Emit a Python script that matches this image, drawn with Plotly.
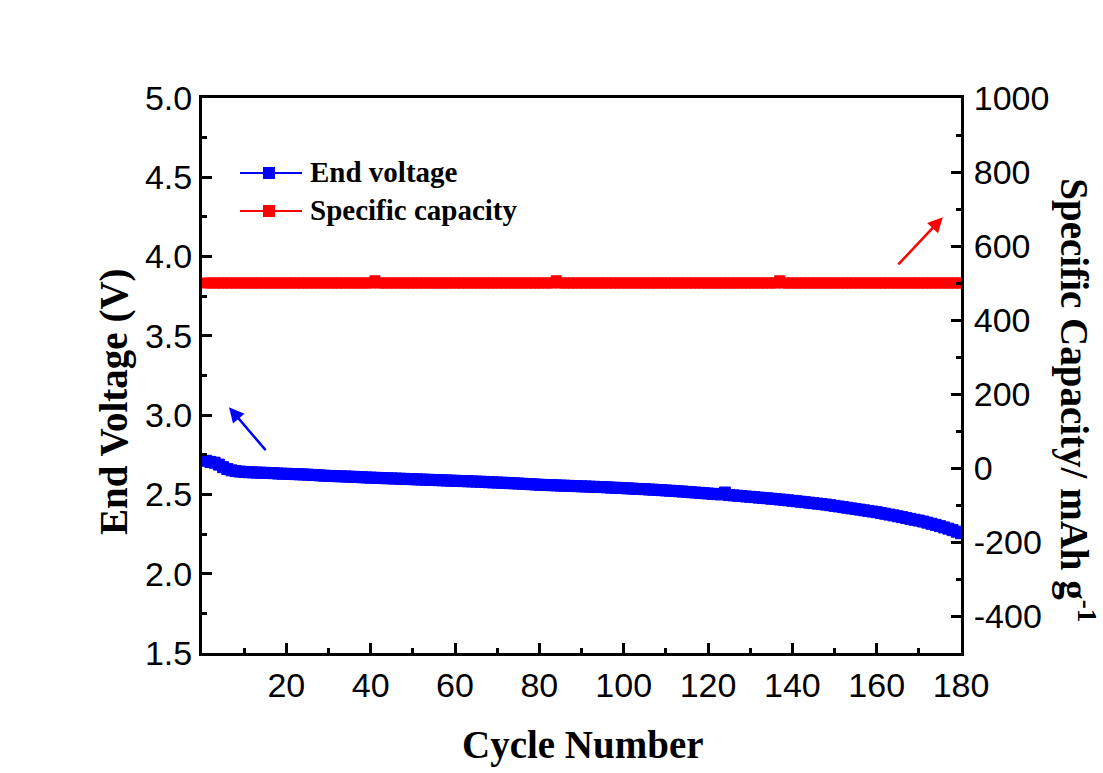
import plotly.graph_objects as go

# Cycle index and measured series
cycles = list(range(1, 181))

end_voltage = [
    2.712, 2.705, 2.700, 2.688, 2.672, 2.660, 2.652, 2.647, 2.644, 2.642,
    2.640, 2.639, 2.638, 2.637, 2.636, 2.635, 2.634, 2.632, 2.631, 2.630,
    2.629, 2.628, 2.627, 2.626, 2.625, 2.623, 2.622, 2.620, 2.618, 2.617,
    2.616, 2.615, 2.614, 2.613, 2.612, 2.611, 2.610, 2.608, 2.607, 2.606,
    2.605, 2.604, 2.603, 2.602, 2.601, 2.600, 2.599, 2.598, 2.597, 2.596,
    2.595, 2.594, 2.593, 2.592, 2.591, 2.590, 2.589, 2.588, 2.587, 2.586,
    2.585, 2.584, 2.583, 2.582, 2.581, 2.580, 2.579, 2.577, 2.576, 2.575,
    2.574, 2.573, 2.571, 2.570, 2.569, 2.567, 2.566, 2.564, 2.563, 2.561,
    2.560, 2.559, 2.558, 2.557, 2.556, 2.555, 2.554, 2.553, 2.552, 2.551,
    2.550, 2.549, 2.548, 2.547, 2.546, 2.545, 2.543, 2.542, 2.541, 2.540,
    2.538, 2.537, 2.535, 2.534, 2.533, 2.531, 2.530, 2.528, 2.527, 2.525,
    2.523, 2.522, 2.520, 2.518, 2.516, 2.514, 2.512, 2.510, 2.508, 2.506,
    2.504, 2.502, 2.500, 2.512, 2.496, 2.494, 2.492, 2.490, 2.487, 2.485,
    2.483, 2.480, 2.478, 2.476, 2.473, 2.471, 2.468, 2.466, 2.463, 2.460,
    2.457, 2.454, 2.451, 2.448, 2.445, 2.442, 2.439, 2.436, 2.432, 2.428,
    2.424, 2.420, 2.416, 2.412, 2.408, 2.404, 2.400, 2.396, 2.392, 2.388,
    2.383, 2.378, 2.373, 2.368, 2.362, 2.357, 2.351, 2.346, 2.340, 2.335,
    2.329, 2.322, 2.315, 2.308, 2.300, 2.292, 2.284, 2.275, 2.265, 2.255,
]

specific_capacity = [
    500, 500, 500, 500, 500, 500, 500, 500, 500, 500, 500, 500, 500, 500, 500, 500, 500, 500, 500, 500,
    500, 500, 500, 500, 500, 500, 500, 500, 500, 500, 500, 500, 500, 500, 500, 500, 500, 500, 500, 500,
    506, 500, 500, 500, 500, 500, 500, 500, 500, 500, 500, 500, 500, 500, 500, 500, 500, 500, 500, 500,
    500, 500, 500, 500, 500, 500, 500, 500, 500, 500, 500, 500, 500, 500, 500, 500, 500, 500, 500, 500,
    500, 500, 500, 506, 500, 500, 500, 500, 500, 500, 500, 500, 500, 500, 500, 500, 500, 500, 500, 500,
    500, 500, 500, 500, 500, 500, 500, 500, 500, 500, 500, 500, 500, 500, 500, 500, 500, 500, 500, 500,
    500, 500, 500, 500, 500, 500, 500, 500, 500, 500, 500, 500, 500, 500, 500, 500, 506, 500, 500, 500,
    500, 500, 500, 500, 500, 500, 500, 500, 500, 500, 500, 500, 500, 500, 500, 500, 500, 500, 500, 500,
    500, 500, 500, 500, 500, 500, 500, 500, 500, 500, 500, 500, 500, 500, 500, 500, 500, 500, 500, 500,
]

x_ticks = [20, 40, 60, 80, 100, 120, 140, 160, 180]
left_ticks = [1.5, 2.0, 2.5, 3.0, 3.5, 4.0, 4.5, 5.0]
right_ticks = [-400, -200, 0, 200, 400, 600, 800, 1000]
right_tick_text = ["-400", "-200", "0", "200", "400", "600", "800", "1000"]

BLUE = "#0000FF"
RED = "#FF0000"
SERIF = "Times New Roman, Liberation Serif, serif"
SANS = "Arial, Liberation Sans, sans-serif"

fig = go.Figure()

fig.add_trace(go.Scatter(
    x=cycles, y=end_voltage, name="End voltage",
    mode="lines+markers",
    line=dict(color=BLUE, width=2),
    marker=dict(symbol="square", size=11, color=BLUE, line=dict(color=BLUE, width=1)),
    yaxis="y", showlegend=False,
))

fig.add_trace(go.Scatter(
    x=cycles, y=specific_capacity, name="Specific capacity",
    mode="lines+markers",
    line=dict(color=RED, width=2),
    marker=dict(symbol="square", size=10, color=RED, line=dict(color=RED, width=1)),
    yaxis="y2", showlegend=False,
))

axis_common = dict(
    showline=True, linecolor="black", linewidth=3,
    ticks="inside", ticklen=10, tickwidth=3, tickcolor="black",
    showgrid=False, zeroline=False,
    tickfont=dict(family=SANS, size=34, color="black"),
    automargin=False,
)

fig.update_layout(
    width=1103, height=773,
    margin=dict(l=202, r=142, t=98, b=120),
    paper_bgcolor="white", plot_bgcolor="white",
    xaxis=dict(
        range=[0, 180], tickvals=x_ticks, mirror=True,
        minor=dict(ticks="inside", ticklen=5, tickwidth=3, tickcolor="black", tick0=0, dtick=10),
        ticklabelstandoff=0,
        **axis_common,
    ),
    yaxis=dict(
        range=[1.5, 5.0], tickvals=left_ticks, tickformat=".1f",
        minor=dict(ticks="inside", ticklen=5, tickwidth=3, tickcolor="black", tick0=1.5, dtick=0.25),
        ticklabelstandoff=0,
        **axis_common,
    ),
    yaxis2=dict(
        range=[-500, 1000], tickvals=right_ticks, ticktext=right_tick_text,
        overlaying="y", side="right",
        minor=dict(ticks="inside", ticklen=5, tickwidth=3, tickcolor="black", tick0=-500, dtick=100),
        ticklabelstandoff=3,
        **axis_common,
    ),
)

# Axis titles
title_font = dict(family=SERIF, size=39, color="black")
fig.add_annotation(text="<b>Cycle Number</b>", xref="paper", yref="paper",
                   x=0.502, y=-0.166, showarrow=False, font=title_font,
                   xanchor="center", yanchor="middle")
fig.add_annotation(text="<b>End Voltage (V)</b>", xref="paper", yref="paper",
                   x=-0.116, y=0.454, showarrow=False, font=title_font, textangle=-90,
                   xanchor="center", yanchor="middle")
fig.add_annotation(text="<b>Specific Capacity/ mAh g<sup>-1</sup></b>", xref="paper", yref="paper",
                   x=1.153, y=0.455, showarrow=False, font=title_font, textangle=90,
                   xanchor="center", yanchor="middle")

# Legend drawn as line + square + label
legend_rows = [("End voltage", BLUE, 0.8649), ("Specific capacity", RED, 0.7964)]
for label, color, yp in legend_rows:
    fig.add_shape(type="line", xref="paper", yref="paper",
                  x0=0.0501, x1=0.1318, y0=yp, y1=yp,
                  line=dict(color=color, width=2))
    fig.add_shape(type="rect", xref="paper", yref="paper",
                  x0=0.0804, x1=0.0962, y0=yp - 0.0108, y1=yp + 0.0108,
                  fillcolor=color, line=dict(color=color, width=0))
    fig.add_annotation(text=f"<b>{label}</b>", xref="paper", yref="paper",
                       x=0.1397, y=yp + 0.002, showarrow=False, xanchor="left", yanchor="middle",
                       font=dict(family=SERIF, size=29, color="black"))

# Arrows pointing each series to its axis
fig.add_annotation(x=6.4, y=3.05, xref="x", yref="y", ax=15.4, ay=2.77, axref="x", ayref="y",
                   showarrow=True, arrowhead=2, arrowsize=1.2, arrowwidth=2.5, arrowcolor=BLUE, text="")
fig.add_annotation(x=175.7, y=678, xref="x", yref="y2", ax=164.8, ay=546, axref="x", ayref="y2",
                   showarrow=True, arrowhead=2, arrowsize=1.2, arrowwidth=2.5, arrowcolor=RED, text="")

fig.write_html("out.html")
